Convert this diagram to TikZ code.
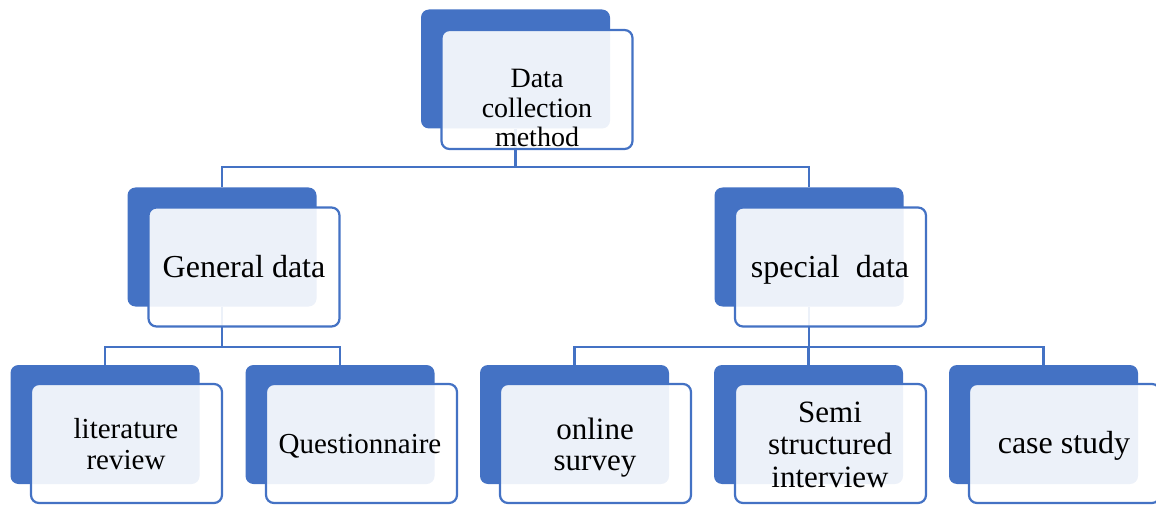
\documentclass[tikz,border=0pt]{standalone}
\usepackage{fontspec}
\setmainfont{Liberation Serif}
\usetikzlibrary{backgrounds}
\definecolor{accent}{HTML}{4472C4}
\begin{document}
\begin{tikzpicture}[x=1pt,y=-1pt,
  back/.style={fill=accent, draw=none, rounded corners=8pt, minimum width=189pt, minimum height=119pt, inner sep=0pt},
  front/.style={fill=white, fill opacity=0.9, draw=accent, draw opacity=1, line width=2.2pt, rounded corners=8pt, minimum width=191pt, minimum height=119pt, inner sep=0pt},
  conn/.style={draw=accent, line width=2.6pt},
  lbl/.style={anchor=base, inner sep=0pt, text=black}]
\useasboundingbox (0,0) rectangle (1156,505);
\clip (0,0) rectangle (1156,505);
% back (blue) boxes
\node[back] (b0) at (515.5,69) {};
\node[back] (b1) at (222,247) {};
\node[back] (b2) at (809,247) {};
\node[back] (b3) at (105,424.5) {};
\node[back] (b4) at (340,424.5) {};
\node[back] (b5) at (574.5,424.5) {};
\node[back] (b6) at (808.5,424.5) {};
\node[back] (b7) at (1043.5,424.5) {};
% front (light) boxes
\node[front] (f0) at (537,89.5) {};
\node[front] (f1) at (244,267) {};
\node[front] (f2) at (830.5,267) {};
\node[front] (f3) at (126.5,443.5) {};
\node[front] (f4) at (361.5,443.5) {};
\node[front] (f5) at (595.5,443.5) {};
\node[front] (f6) at (830.5,443.5) {};
\node[front] (f7) at (1064.5,443.5) {};
% texts
\node[lbl, font=\fontsize{28}{29.5}\selectfont] (t0) at (537,88) {\begin{tabular}[t]{@{}c@{}}Data\\collection\\method\end{tabular}};
\node[lbl, font=\fontsize{32}{36}\selectfont] (t1) at (244,277) {General data};
\node[lbl, font=\fontsize{32}{36}\selectfont] (t2) at (830,277) {special\ \ data};
\node[lbl, font=\fontsize{29}{31}\selectfont] (t3) at (126,438) {\begin{tabular}[t]{@{}c@{}}literature\\review\end{tabular}};
\node[lbl, font=\fontsize{29}{31}\selectfont] (t4) at (360,453) {Questionnaire};
\node[lbl, font=\fontsize{31}{31}\selectfont] (t5) at (595,439) {\begin{tabular}[t]{@{}c@{}}online\\survey\end{tabular}};
\node[lbl, font=\fontsize{31}{32.5}\selectfont] (t6) at (830,422) {\begin{tabular}[t]{@{}c@{}}Semi\\structured\\interview\end{tabular}};
\node[lbl, font=\fontsize{32}{36}\selectfont] (t7) at (1064,453) {case study};
% connectors
\begin{pgfonlayer}{background}
\coordinate (j0) at (b0.south |- 0,167);
\coordinate (j1) at (b1.south |- 0,347);
\coordinate (j2) at (b2.south |- 0,347);
\draw[conn] (b0.south) -- (j0);
\draw[conn] (j0) -| (b1.north);
\draw[conn] (j0) -| (b2.north);
\draw[conn] (b1.south) -- (j1);
\draw[conn] (j1) -| (b3.north);
\draw[conn] (j1) -| (b4.north);
\draw[conn] (b2.south) -- (j2);
\draw[conn] (j2) -| (b5.north);
\draw[conn] (j2) -| (b6.north);
\draw[conn] (j2) -| (b7.north);
\end{pgfonlayer}
\end{tikzpicture}
\end{document}
